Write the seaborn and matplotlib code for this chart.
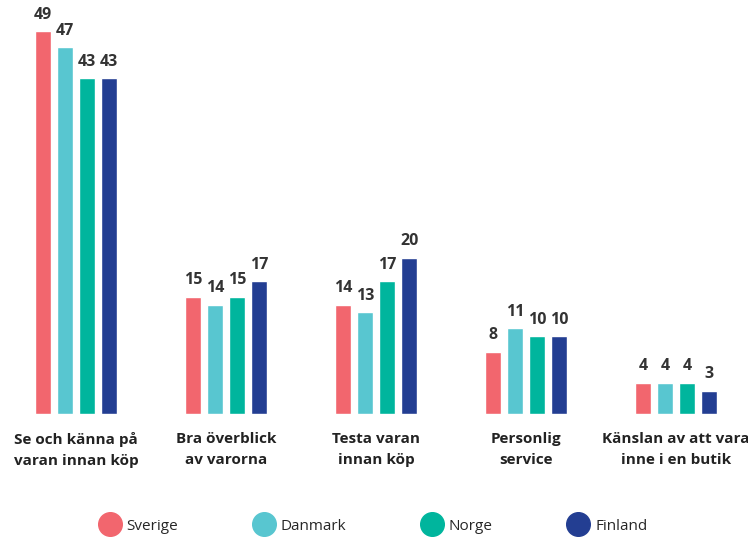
import pandas as pd
import matplotlib.pyplot as plt
from matplotlib.lines import Line2D
import seaborn as sns

categories = [
    'Se och känna på\nvaran innan köp',
    'Bra överblick\nav varorna',
    'Testa varan\ninnan köp',
    'Personlig\nservice',
    'Känslan av att vara\ninne i en butik',
]
countries = ['Sverige', 'Danmark', 'Norge', 'Finland']
sverige = [49, 15, 14, 8, 4]
danmark = [47, 14, 13, 11, 4]
norge = [43, 15, 17, 10, 4]
finland = [43, 17, 20, 10, 3]
colors = ['#F2666E', '#58C6D0', '#00B59D', '#233E92']

rows = []
for country, vals in zip(countries, [sverige, danmark, norge, finland]):
    for cat, v in zip(categories, vals):
        rows.append({'kategori': cat, 'land': country, 'andel': v})
df = pd.DataFrame(rows)

sns.set_style('white')
plt.rcParams['font.family'] = ['Open Sans', 'DejaVu Sans']

fig = plt.figure(figsize=(7.48, 5.38), dpi=100)
ax = fig.add_axes([0.0, 0.2305, 1.0, 0.7695])

sns.barplot(data=df, x='kategori', y='andel', hue='land', order=categories,
            hue_order=countries, palette=colors, width=0.59, gap=0.3,
            saturation=1, ax=ax, legend=False)

for cont in ax.containers:
    ax.bar_label(cont, fmt='%d', padding=6, fontsize=11.5,
                 fontweight='bold', color='#333333')

ax.set_xlim(-0.507, 4.48)
ax.set_ylim(0, 53)
ax.set_xlabel('')
ax.set_ylabel('')
ax.set_yticks([])
sns.despine(ax=ax, left=True, bottom=True)
ax.tick_params(axis='x', length=0, pad=13)
for lbl in ax.get_xticklabels():
    lbl.set_fontweight('bold')
    lbl.set_fontsize(11)
    lbl.set_color('#222222')
    lbl.set_linespacing(1.6)

handles = [Line2D([0], [0], marker='o', linestyle='', markersize=17,
                  markerfacecolor=c, markeredgecolor=c) for c in colors]
fig.legend(handles, countries, loc='center', bbox_to_anchor=(0.5, 0.022),
           ncol=4, frameon=False, fontsize=11, handletextpad=0.5,
           columnspacing=5.0, handlelength=1.2)

fig.savefig('out.png', dpi=100)
